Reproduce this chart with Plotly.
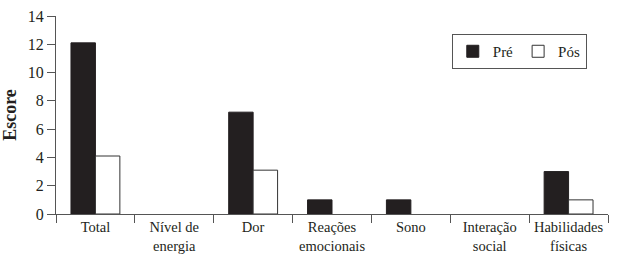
import plotly.graph_objects as go

categories = ["Total", "Nível de<br>energia", "Dor", "Reações<br>emocionais", "Sono", "Interação<br>social", "Habilidades<br>físicas"]
pre_values = [12.1, 0, 7.2, 1.0, 1.0, 0, 3.0]
pos_values = [4.1, 0, 3.1, 0, 0, 0, 1.0]
y_ticks = [0, 2, 4, 6, 8, 10, 12, 14]

font_family = "Liberation Serif, DejaVu Serif, serif"

fig = go.Figure()
fig.add_trace(go.Bar(
    x=categories, y=pre_values, name="Pré",
    marker=dict(color="#231f20",
                line=dict(color="#231f20", width=[1 if v > 0 else 0 for v in pre_values])),
))
fig.add_trace(go.Bar(
    x=categories, y=pos_values, name="Pós",
    marker=dict(color="white",
                line=dict(color="#333333", width=[1 if v > 0 else 0 for v in pos_values])),
))

fig.update_layout(
    width=617, height=257,
    margin=dict(l=56, r=9, t=16, b=43),
    paper_bgcolor="white", plot_bgcolor="white",
    barmode="group", bargap=0.38, bargroupgap=0,
    font=dict(family=font_family, size=15, color="#231f20"),
    showlegend=True,
    legend=dict(
        orientation="h", x=0.717, y=0.909, xanchor="left", yanchor="top",
        bordercolor="#555555", borderwidth=1, bgcolor="white",
        font=dict(family=font_family, size=15, color="#231f20"),
    ),
)
fig.update_xaxes(
    type="category", tickson="boundaries", tickangle=0, automargin=False,
    showline=True, linecolor="#555555", linewidth=1,
    ticks="outside", ticklen=8, tickcolor="#555555",
    showgrid=False, tickfont=dict(size=14.5, family=font_family),
)
fig.update_yaxes(
    range=[0, 14], tickvals=y_ticks, automargin=False,
    showline=True, linecolor="#555555", linewidth=1,
    ticks="outside", ticklen=8, tickcolor="#555555",
    showgrid=False, zeroline=False,
    tickfont=dict(size=16, family=font_family),
    title=dict(text="<b>Escore</b>", font=dict(size=18, family=font_family), standoff=6),
)

fig.write_html("out.html", config={"displayModeBar": False},
               post_script="document.body.style.margin='0';")
